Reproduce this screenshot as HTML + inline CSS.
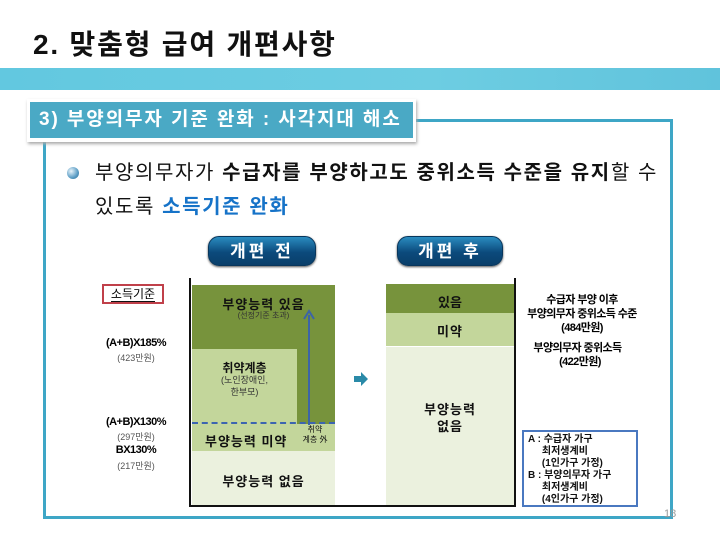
<!DOCTYPE html>
<html><head><meta charset="utf-8"><style>
*{margin:0;padding:0;box-sizing:border-box}
body{width:720px;height:540px;background:#fff;position:relative;overflow:hidden;font-family:"Liberation Sans","Noto Sans CJK KR",sans-serif;}
.a{position:absolute}
.c{text-align:center;white-space:nowrap}
.btn{position:absolute;border-radius:11px;background:linear-gradient(#2a8cc0,#0b4a7c 55%,#0a3f6a);color:#fff;font-weight:bold;font-size:17px;text-align:center;line-height:30px;letter-spacing:3px;box-shadow:0 1px 2px #555;border:1px solid #08365c}
.k{font-weight:bold;color:#111}
</style></head><body>
<div class="a" style="left:33px;top:23px;font-size:28px;font-weight:bold;color:#111;letter-spacing:1.8px">2. 맞춤형 급여 개편사항</div>
<div class="a" style="left:0;top:68px;width:720px;height:22px;background:linear-gradient(90deg,#62c8e0,#6dcde2 60%,#60c3dc)"></div>

<div class="a" style="left:415px;top:119px;width:258px;height:3px;background:#3ea6c6"></div>
<div class="a" style="left:670px;top:119px;width:3px;height:400px;background:#3ea6c6"></div>
<div class="a" style="left:43px;top:140px;width:3px;height:379px;background:#3ea6c6"></div>
<div class="a" style="left:43px;top:516px;width:630px;height:3px;background:#3ea6c6"></div>
<div class="a" style="left:664px;top:508px;font-size:11px;color:#999">18</div>

<div class="a" style="left:27px;top:99px;width:389px;height:43px;background:#fff;box-shadow:1px 2px 3px #aaa"></div>
<div class="a" style="left:30px;top:102px;width:383px;height:36px;background:#4aa9c5;color:#fff;font-size:19px;font-weight:bold;line-height:36px;padding-left:9px;letter-spacing:1.9px;white-space:nowrap">3) 부양의무자 기준 완화 : 사각지대 해소</div>

<div class="a" style="left:67px;top:167px;width:12px;height:12px;border-radius:50%;background:radial-gradient(circle at 35% 35%,#e8f4fb,#5a9cc4 60%,#2c6a94)"></div>
<div class="a" style="left:95px;top:156px;font-size:20px;color:#111;line-height:34px;width:600px;letter-spacing:1.6px;white-space:nowrap">부양의무자가 <b>수급자를 부양하고도 중위소득 수준을 유지</b>할 수<br>있도록 <b style="color:#1673c8">소득기준 완화</b></div>

<div class="btn" style="left:208px;top:236px;width:108px;height:30px">개편 전</div>
<div class="btn" style="left:397px;top:236px;width:106px;height:30px">개편 후</div>

<div class="a c" style="left:102px;top:284px;width:62px;height:20px;border:2px solid #c0404a;font-size:12px;line-height:16px;"><span style="border-bottom:1px solid #111">소득기준</span></div>
<div class="a c" style="left:96px;top:337px;width:80px;font-size:11px;font-weight:bold;letter-spacing:-0.5px">(A+B)X185%</div>
<div class="a c" style="left:96px;top:351px;width:80px;font-size:9px;color:#555">(423만원)</div>
<div class="a c" style="left:96px;top:416px;width:80px;font-size:11px;font-weight:bold;letter-spacing:-0.5px">(A+B)X130%</div>
<div class="a c" style="left:96px;top:430px;width:80px;font-size:9px;color:#555">(297만원)</div>
<div class="a c" style="left:96px;top:444px;width:80px;font-size:11px;font-weight:bold;letter-spacing:-0.5px">BX130%</div>
<div class="a c" style="left:96px;top:459px;width:80px;font-size:9px;color:#555">(217만원)</div>

<div class="a" style="left:192px;top:285px;width:143px;height:139px;background:#77933c"></div>
<div class="a" style="left:192px;top:349px;width:105px;height:75px;background:#c3d69b"></div>
<div class="a" style="left:192px;top:424px;width:143px;height:27px;background:#c3d69b"></div>
<div class="a" style="left:192px;top:451px;width:143px;height:54px;background:#ebf1de"></div>
<div class="a" style="left:192px;top:422px;width:143px;border-top:2px dashed #3c64b0"></div>
<div class="a c k" style="left:192px;top:294px;width:143px;font-size:13px;letter-spacing:1px">부양능력 있음</div>
<div class="a c" style="left:192px;top:310px;width:143px;font-size:8px;color:#333">(선정기준 초과)</div>
<div class="a c k" style="left:192px;top:359px;width:105px;font-size:12px">취약계층</div>
<div class="a c" style="left:192px;top:374px;width:105px;font-size:9px;color:#333;line-height:12px">(노인장애인,<br>한부모)</div>
<div class="a k" style="left:205px;top:431px;font-size:13px;letter-spacing:1px">부양능력 미약</div>
<div class="a c" style="left:296px;top:425px;width:38px;font-size:8px;line-height:10px;color:#111">취약<br>계층 外</div>
<div class="a c k" style="left:192px;top:471px;width:143px;font-size:13px;letter-spacing:1px">부양능력 없음</div>
<svg class="a" style="left:300px;top:305px" width="20" height="125"><line x1="9" y1="120" x2="9" y2="10" stroke="#3c64a8" stroke-width="2"/><polyline points="4,14 9,6 14,14" fill="none" stroke="#3c64a8" stroke-width="2"/></svg>

<div class="a" style="left:189px;top:278px;width:2px;height:229px;background:#111"></div>
<div class="a" style="left:189px;top:505px;width:327px;height:2px;background:#111"></div>
<div class="a" style="left:514px;top:278px;width:2px;height:229px;background:#111"></div>

<svg class="a" style="left:354px;top:372px" width="16" height="14"><polygon points="0,4 7,4 7,0 14,7 7,14 7,10 0,10" fill="#2a8aa8"/></svg>

<div class="a" style="left:386px;top:284px;width:128px;height:29px;background:#77933c"></div>
<div class="a" style="left:386px;top:313px;width:128px;height:33px;background:#c3d69b"></div>
<div class="a" style="left:386px;top:347px;width:128px;height:158px;background:#ebf1de"></div>
<div class="a c k" style="left:386px;top:292px;width:128px;font-size:13px">있음</div>
<div class="a c k" style="left:386px;top:321px;width:128px;font-size:13px;letter-spacing:1px">미약</div>
<div class="a c k" style="left:386px;top:401px;width:128px;font-size:13px;line-height:17px;letter-spacing:1px">부양능력<br>없음</div>

<div class="a c" style="left:517px;top:293px;width:130px;font-size:11px;font-weight:bold;line-height:14px;letter-spacing:-0.6px">수급자 부양 이후<br>부양의무자 중위소득 수준<br>(484만원)</div>
<div class="a c" style="left:520px;top:341px;width:115px;font-size:11px;font-weight:bold;line-height:14px;letter-spacing:-0.6px">부양의무자 중위소득<br>&nbsp;&nbsp;(422만원)</div>

<div class="a" style="left:522px;top:430px;width:116px;height:77px;border:2px solid #4a78c0;font-size:10px;font-weight:bold;line-height:12px;padding:2px 0 0 4px;white-space:nowrap;color:#111">A : 수급자 가구<br>&nbsp;&nbsp;&nbsp;&nbsp;&nbsp;최저생계비<br>&nbsp;&nbsp;&nbsp;&nbsp;&nbsp;(1인가구 가정)<br>B : 부양의무자 가구<br>&nbsp;&nbsp;&nbsp;&nbsp;&nbsp;최저생계비<br>&nbsp;&nbsp;&nbsp;&nbsp;&nbsp;(4인가구 가정)</div>
</body></html>
